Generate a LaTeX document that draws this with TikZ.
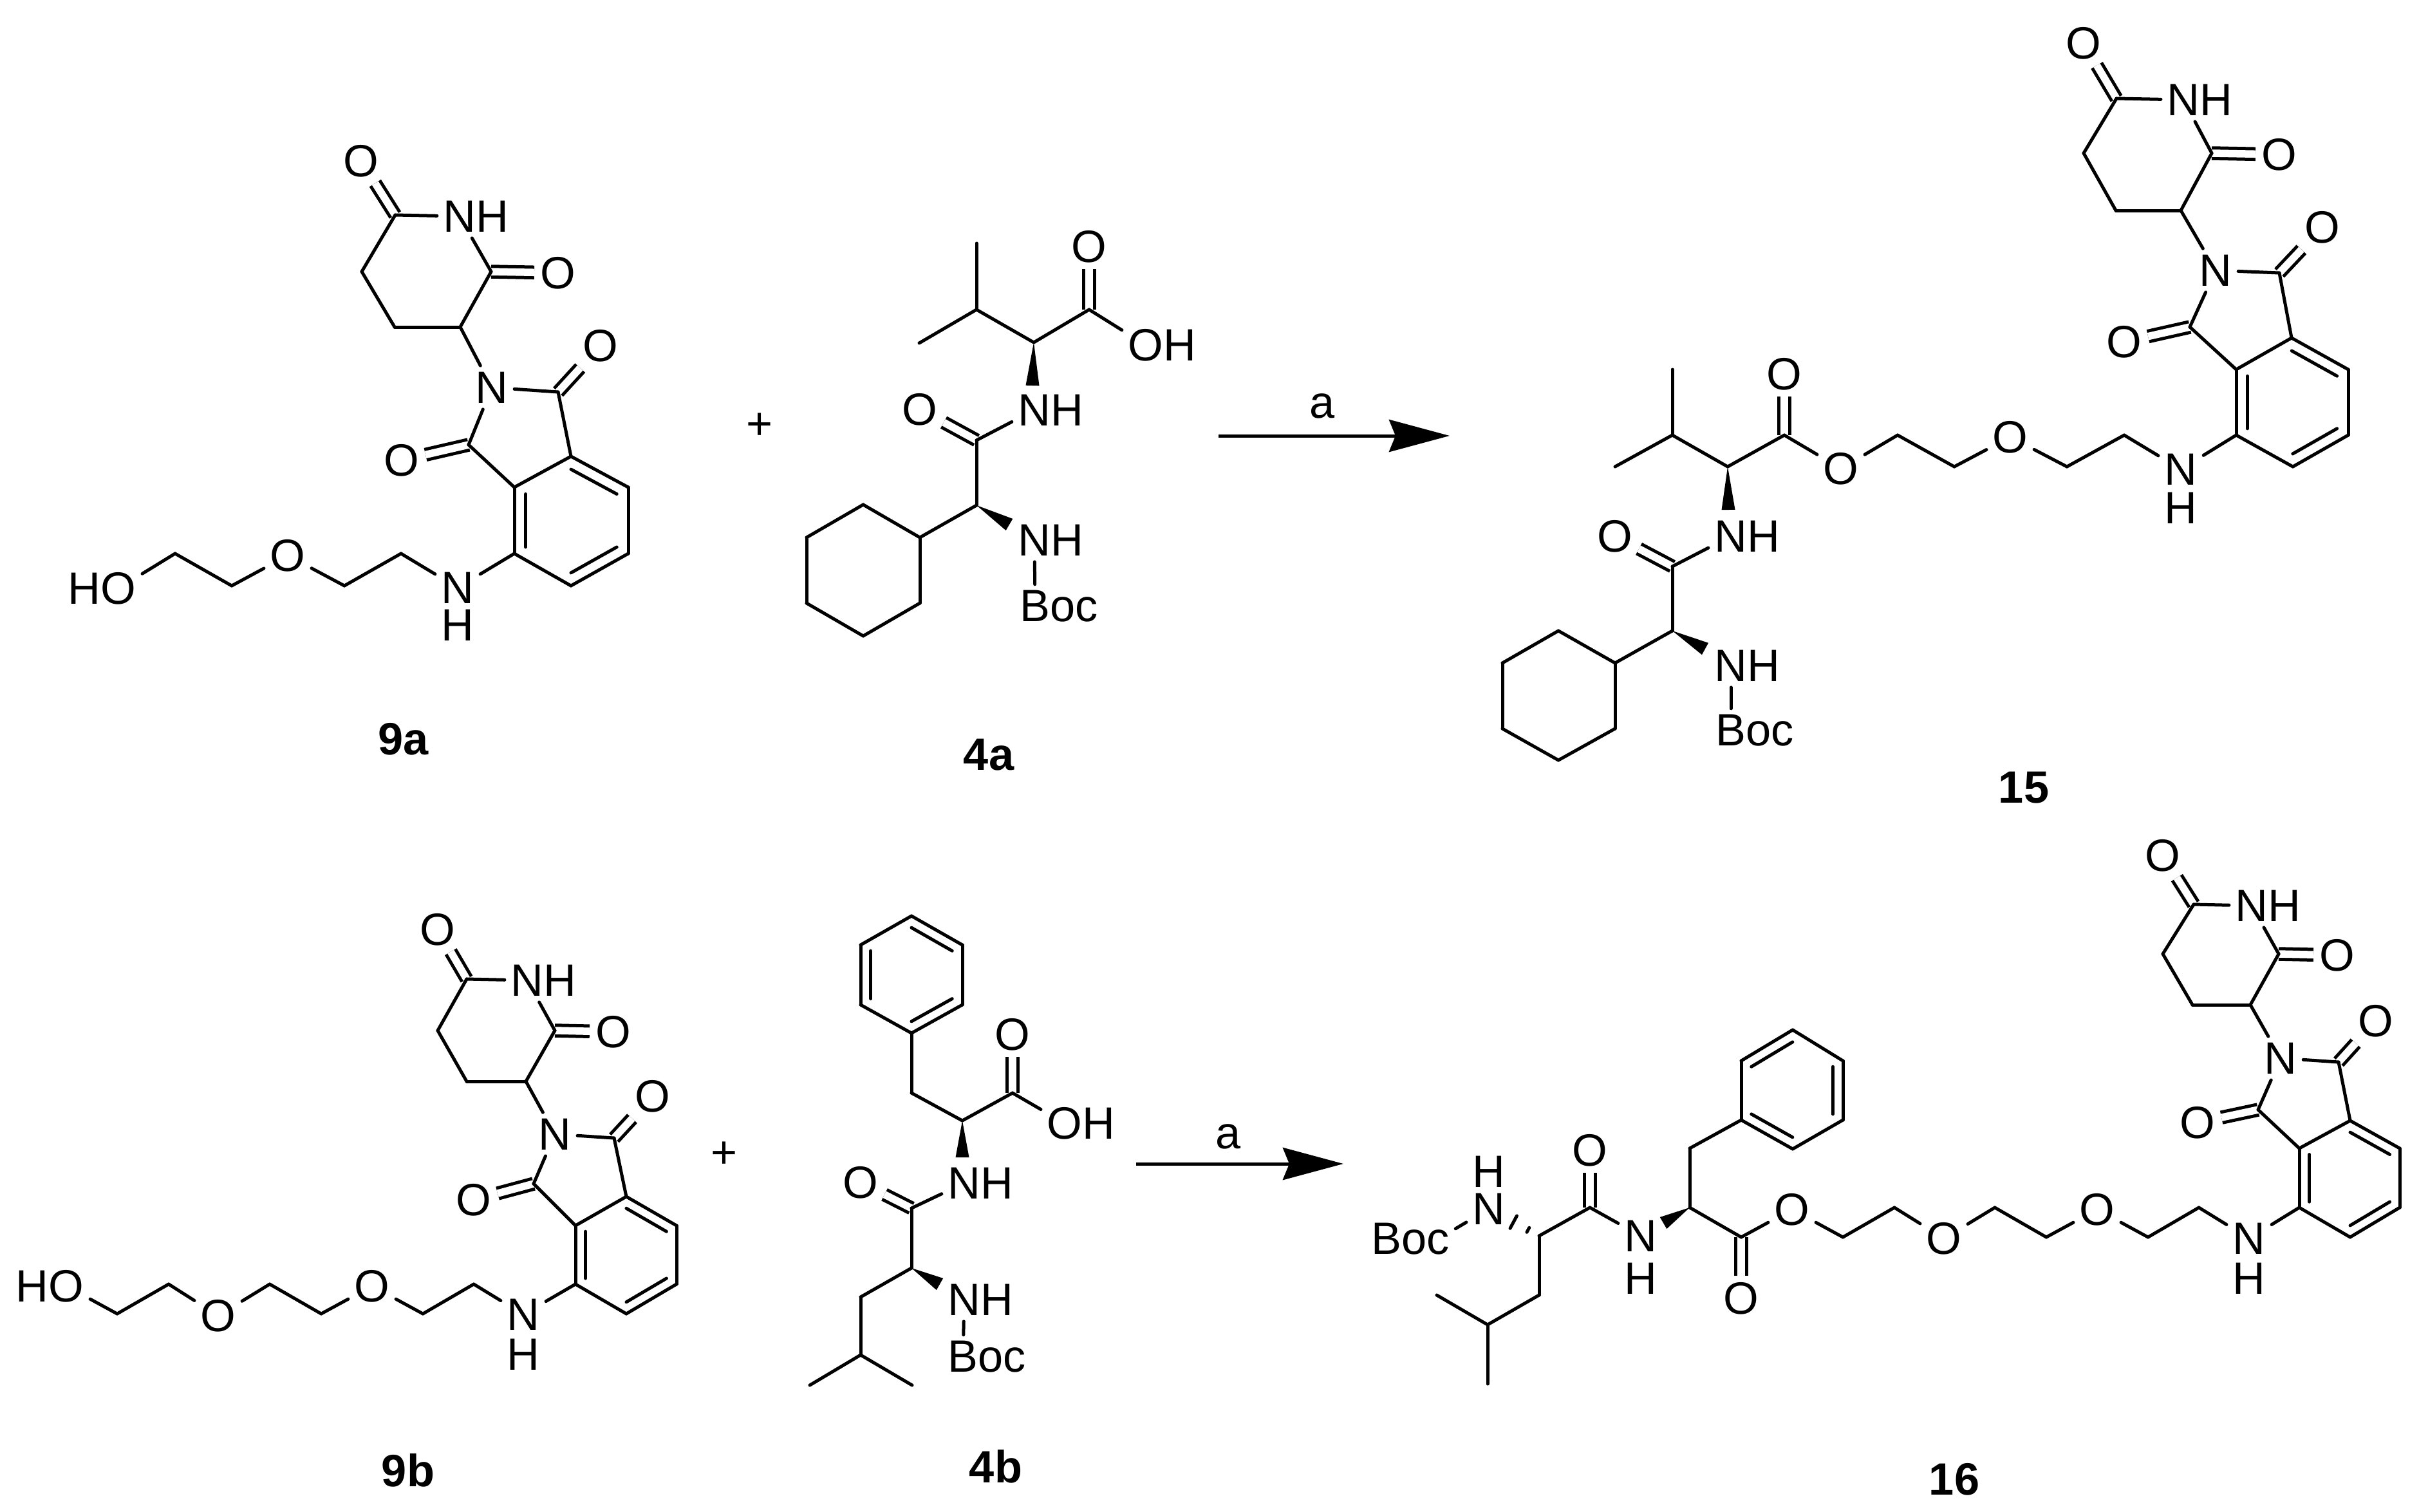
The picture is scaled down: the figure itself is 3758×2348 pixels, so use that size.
\documentclass[tikz,border=0pt]{standalone}
\usepackage{fontspec}
\setmainfont{Liberation Sans}
\usetikzlibrary{arrows.meta,calc,positioning}
\tikzset{
    %Define style for atom labels
    atom/.style={
           inner sep=.09cm,
           font=\fontsize{20}{20}\selectfont},
    %Define style for compound labels
    cpd/.style={
           inner sep=0pt,
           font=\fontsize{20}{20}\selectfont\bfseries},
    %Define bond styles
    bond/.style={
           draw=black,
           line width=.05cm,
           line cap=round},
    dbl/.style={
           draw=black,
           line width=.05cm,
           double,
           double distance=.115cm},
    % Define arrow style
    rxn/.style={
           draw=black,
           line width=.05cm,
           -{Stealth[length=.94cm,width=.5cm,inset=.1cm]}}
}
% lists are name/x/y (/text), each name gets the prefix #1
\newcommand{\carbons}[2]{\foreach \n/\x/\y in {#2} \coordinate (#1\n) at (\x,\y);}
\newcommand{\atoms}[2]{\foreach \n/\x/\y/\lab in {#2} \node[atom] (#1\n) at (\x,\y) {\lab};}
\newcommand{\bonds}[2]{\foreach \p/\q in {#2} \draw[bond] (#1\p) -- (#1\q);}
\newcommand{\dbonds}[2]{\foreach \p/\q in {#2} \draw[dbl] (#1\p) -- (#1\q);}
\newcommand{\rbonds}[3]{\foreach \p/\q in {#3} \draw[bond] ($(#1\p)!.2!(#1#2)$) -- ($(#1\q)!.2!(#1#2)$);}
\newcommand{\wedgebond}[2]{\fill ($(#1)$) -- ($(#2)!.105cm!90:(#1)$) -- ($(#2)!.105cm!-90:(#1)$) -- cycle;}
% the ring system shared by 9a, 15, 9b and 16
\newcommand{\corebonds}[1]{
  \coordinate (#1ctr) at ($(#1ra)!.5!(#1re)$);
  \dbonds{#1}{c1/o1,c2/o2,c6/o3,c7/o4}
  \bonds{#1}{c1/n1,n1/c2,c2/c3,c3/c4,c4/c5,c5/c1,c3/n2,n2/c6,n2/c7,c6/ra,c7/rb,
    ra/rb,ra/rc,rc/rd,rd/re,re/rf,rf/rb,rf/n3}
  \rbonds{#1}{ctr}{ra/rc,rd/re,rb/rf}
}
% the dipeptide with the cyclohexyl group, 4a and 15
\newcommand{\chabonds}[1]{
  \dbonds{#1}{cc/co,cd/od}
  \bonds{#1}{ca/cc,ca/ch,ch/m1,ch/m2,n4/cd,cd/cb,cb/y1,y1/y2,y2/y3,y3/y4,y4/y5,y5/y6,y6/y1,n5/bc}
  \wedgebond{#1ca}{#1wa}
  \wedgebond{#1cb}{#1wb}
}
% the dipeptide with the phenyl group, 4b and 16
\newcommand{\phebonds}[1]{
  \coordinate (#1ctr) at ($(#1ph1)!.5!(#1ph4)$);
  \dbonds{#1}{cc/co,cd/od}
  \bonds{#1}{ca/cc,ca/cp,cp/ph1,ph1/ph2,ph2/ph3,ph3/ph4,ph4/ph5,ph5/ph6,ph6/ph1,
    n4/cd,cd/cb,cb/cl,cl/cg,cg/m1,cg/m2,n5/bc}
  \rbonds{#1}{ctr}{ph1/ph2,ph3/ph4,ph5/ph6}
  \wedgebond{#1ca}{#1wa}
}

\begin{document}
\begin{tikzpicture}[x=.01cm,y=-.01cm]
\useasboundingbox (0,0) rectangle (3758,2348);
 %9a
\carbons{p}{c1/614/334,c2/763/422,c3/715/508,c4/613/508,c5/562/422,c6/867/609,c7/728/691,
  ra/887/709,rb/799/757,rc/976/757,rd/976/860,re/887/910,rf/799/860,
  g/623/860,h/535/910,i/360/910,j/272/860}
\atoms{p}{o1/561/250/O,n1/714/336/{N\rlap{H}},o2/867/424/O,n2/764/602/N,o3/933/537/O,o4/624/715/O,
  n3/711/913/N,h3/711/971/H,o5/447/863/O,o6/184/914/{\llap{H}O}}
\corebonds{p}
\bonds{p}{n3/g,g/h,h/o5,o5/i,i/j,j/o6}
\node[cpd](l9a) at (627,1148){9a};
 %4a
\carbons{v}{m1/1517/378,ch/1517/481,m2/1428/533,ca/1606/532,cc/1692/481,wa/1604/599,cd/1517/684,
  cb/1517/785,wb/1568/815,y1/1429/835,y2/1341/784,y3/1253/835,y4/1253/937,y5/1341/988,y6/1429/937}
\atoms{v}{co/1692/383/O,oh/1780/536/{O\rlap{H}},n4/1607/637/{N\rlap{H}},od/1429/636/O,
  n5/1607/839/{N\rlap{H}},bc/1608/942/{B\rlap{oc}}}
\chabonds{v}
\bonds{v}{cc/oh}
\node[atom](plusa) at (1180,662){+};
\node[cpd](l4a) at (1536,1173){4a};
 %first arrow
\coordinate (sa) at (1893,677);
\coordinate (ea) at (2252,677);
\draw[rxn] (sa) -- (ea);
\node[atom](la) at (2054,631){a};
 %15
\carbons{q}{c1/3288/153,c2/3436/238,c3/3388/327,c4/3287/327,c5/3237/238,c6/3541/424,c7/3402/508,
  ra/3560/525,rb/3474/574,rc/3648/574,rd/3648/676,re/3562/725,rf/3474/676,
  g/3300/676,h/3211/725,i/3036/725,j/2948/676,cc/2772/676,ca/2684/725,ch/2598/676,m1/2598/574,m2/2509/725,
  wa/2685/792,cd/2598/880,cb/2598/980,wb/2649/1008,y1/2509/1030,y2/2421/980,y3/2334/1030,y4/2334/1132,
  y5/2421/1181,y6/2509/1132}
\atoms{q}{o1/3237/67/O,n1/3392/155/{N\rlap{H}},o2/3541/240/O,n2/3442/420/N,o3/3608/353/O,o4/3300/531/O,
  n3/3388/729/N,h3/3388/789/H,o5/3123/679/O,oe/2860/728/O,co/2772/581/O,n4/2689/833/{N\rlap{H}},
  od/2509/833/O,n5/2689/1034/{N\rlap{H}},bc/2689/1135/{B\rlap{oc}}}
\corebonds{q}
\chabonds{q}
\bonds{q}{n3/g,g/h,h/o5,o5/i,i/j,j/oe,oe/cc}
\node[cpd](l15) at (3144,1224){15};
 %9b
\carbons{r}{c1/725/1521,c2/862/1601,c3/817/1680,c4/725/1680,c5/680/1601,c6/954/1768,c7/829/1839,
  ra/973/1859,rb/894/1904,rc/1051/1904,rd/1051/1995,re/973/2041,rf/894/1995,
  g/736/1995,h/657/2041,i/499/2041,j/419/1995,k/262/1995,l/182/2041}
\atoms{r}{o1/680/1444/O,n1/819/1523/{N\rlap{H}},o2/953/1603/O,n2/862/1762/N,o3/1014/1703/O,o4/736/1864/O,
  n3/813/2042/N,h3/813/2104/H,o5/578/1998/O,o6/339/2044/O,o7/103/1998/{\llap{H}O}}
\corebonds{r}
\bonds{r}{n3/g,g/h,h/o5,o5/i,i/j,j/o6,o6/k,k/l,l/o7}
\node[atom](plusb) at (1125,1794){+};
\node[cpd](l9b) at (634,2284){9b};
 %4b
\carbons{w}{ph1/1416/1605,ph2/1495/1561,ph3/1495/1468,ph4/1416/1423,ph5/1337/1468,ph6/1337/1561,
  cp/1416/1698,ca/1495/1741,cc/1573/1698,wa/1495/1798,cd/1416/1877,cb/1416/1970,wb/1460/1995,
  cl/1337/2015,cg/1337/2105,m1/1258/2152,m2/1417/2152}
\atoms{w}{co/1573/1607/O,oh/1654/1745/{O\rlap{H}},n4/1498/1838/{N\rlap{H}},od/1337/1837/O,
  n5/1498/2019/{N\rlap{H}},bc/1496/2108/{B\rlap{oc}}}
\phebonds{w}
\bonds{w}{cc/oh}
\wedgebond{wcb}{wwb}
\node[cpd](l4b) at (1547,2278){4b};
 %second arrow
\coordinate (sb) at (1765,1808);
\coordinate (eb) at (2087,1808);
\draw[rxn] (sb) -- (eb);
\node[atom](lb) at (1908,1766){a};
 %16
\carbons{s}{c1/3408/1405,c2/3540/1482,c3/3496/1561,c4/3406/1561,c5/3360/1482,c6/3633/1650,c7/3508/1724,
  ra/3651/1741,rb/3572/1784,rc/3728/1784,rd/3728/1876,re/3651/1922,rf/3572/1876,
  g/3416/1876,h/3337/1922,i/3179/1922,j/3099/1876,k/2943/1876,l/2863/1922,cc/2705/1922,ca/2625/1876,
  cp/2625/1784,ph1/2705/1740,ph2/2785/1785,ph3/2863/1740,ph4/2863/1648,ph5/2785/1600,ph6/2705/1648,
  wa/2584/1900,cd/2470/1876,cb/2391/1920,cl/2391/2012,cg/2311/2058,m1/2232/2012,m2/2311/2150}
\atoms{s}{o1/3360/1329/O,n1/3498/1407/{N\rlap{H}},o2/3631/1484/O,n2/3543/1644/N,o3/3691/1586/O,o4/3414/1744/O,
  n3/3494/1924/N,h3/3494/1986/H,o5/3258/1879/O,o6/3020/1924/O,oe/2784/1879/O,co/2705/2017/O,
  n4/2549/1920/N,h4/2549/1986/H,od/2470/1787/O,n5/2313/1878/N,h5/2313/1820/H,
  bc/2234/1925/{\llap{Bo}c\vphantom{B}}}
\corebonds{s}
\phebonds{s}
\bonds{s}{n3/g,g/h,h/o5,o5/i,i/j,j/o6,o6/k,k/l,l/oe,oe/cc}
\foreach \t/\w in {.22/.04,.51/.11}
  \draw[bond] ($(scb)!\t!(sn5)!\w cm!90:(sn5)$) -- ($(scb)!\t!(sn5)!\w cm!-90:(sn5)$);
\node[cpd](l16) at (3036,2298){16};
\end{tikzpicture}
\end{document}
